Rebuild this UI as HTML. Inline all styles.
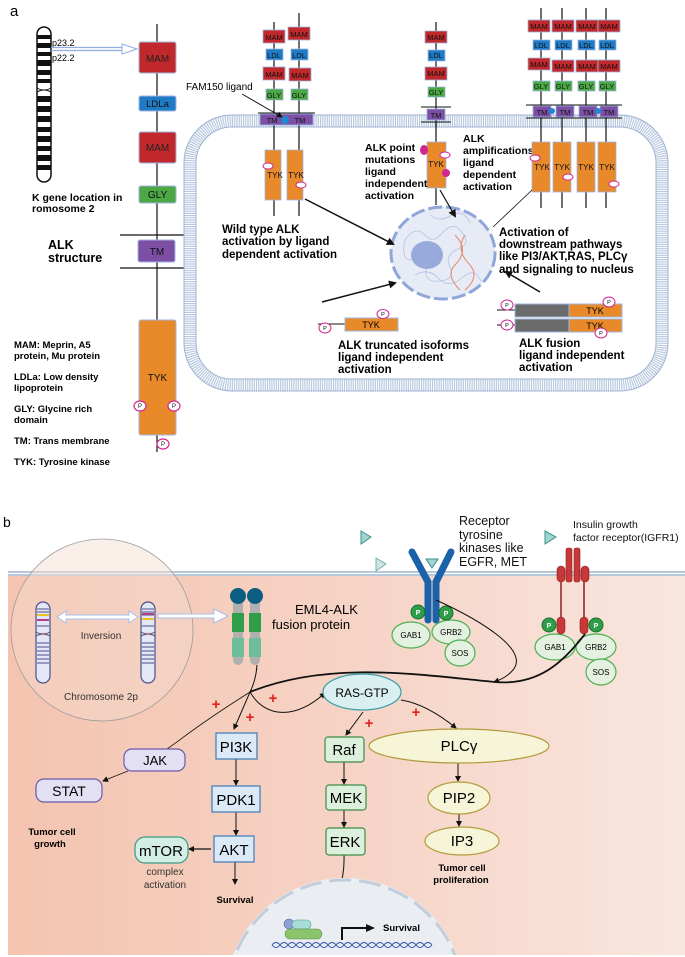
<!DOCTYPE html>
<html><head><meta charset="utf-8"><style>
html,body{margin:0;padding:0;background:#fff;width:685px;height:957px;overflow:hidden}
svg{display:block;font-family:"Liberation Sans",sans-serif}
.b{font-weight:bold}
</style></head><body>
<svg width="685" height="957" viewBox="0 0 685 957" xmlns="http://www.w3.org/2000/svg">
<defs>
<marker id="ah" markerWidth="8" markerHeight="8" refX="6" refY="4" orient="auto" markerUnits="userSpaceOnUse"><path d="M0,0 L8,4 L0,8 z" fill="#111"/></marker>
<marker id="ahs" markerWidth="6" markerHeight="6" refX="5" refY="3" orient="auto" markerUnits="userSpaceOnUse"><path d="M0,0 L6,3 L0,6 z" fill="#111"/></marker>
<linearGradient id="sal" x1="0" x2="1" y1="0" y2="0"><stop offset="0" stop-color="#f4c4b0"/><stop offset="0.5" stop-color="#f6d3c5"/><stop offset="1" stop-color="#f9e6df"/></linearGradient>
</defs>

<!-- ============ PANEL A ============ -->
<text x="10" y="16" font-size="15">a</text>

<g>
<rect x="37" y="27" width="14" height="155" rx="7" fill="#fff" stroke="#111" stroke-width="1.5"/>
<g fill="#111">
<rect x="37" y="35" width="14" height="4"/><rect x="37" y="43" width="14" height="5"/><rect x="37" y="52" width="14" height="4"/>
<rect x="37" y="60" width="14" height="6"/><rect x="37" y="70" width="14" height="5"/><rect x="37" y="79" width="14" height="4"/>
<rect x="37" y="96" width="14" height="6"/><rect x="37" y="106" width="14" height="6"/><rect x="37" y="116" width="14" height="6"/>
<rect x="37" y="127" width="14" height="5"/><rect x="37" y="136" width="14" height="6"/><rect x="37" y="146" width="14" height="5"/>
<rect x="37" y="155" width="14" height="6"/><rect x="37" y="165" width="14" height="5"/>
</g>
<path d="M37,88 Q44,92 51,88 M37,92 Q44,88 51,92" stroke="#111" fill="#fff"/>
</g>
<text x="52" y="46" font-size="9">p23.2</text>
<text x="52" y="61" font-size="9">p22.2</text>
<path d="M51,47.5 L125,47.5 M51,50.5 L125,50.5" stroke="#8faee0" stroke-width="1.2"/>
<path d="M122,44 L137,49 L122,54 z" fill="#fff" stroke="#8faee0"/>
<text x="32" y="201" font-size="10.5" class="b">K gene location in</text>
<text x="32" y="212" font-size="10.5" class="b">romosome 2</text>

<line x1="157" y1="24" x2="157" y2="452" stroke="#111" stroke-width="1.2"/>
<line x1="120" y1="235" x2="184" y2="235" stroke="#111" stroke-width="1.2"/>
<line x1="120" y1="268" x2="184" y2="268" stroke="#111" stroke-width="1.2"/>
<rect x="139" y="42" width="37" height="31" rx="2" fill="#c0282b" stroke="#9fb6e0"/>
<text x="157.5" y="62" font-size="10" text-anchor="middle" fill="#222">MAM</text>
<rect x="139" y="96" width="37" height="15" rx="2" fill="#1f7bc6" stroke="#9fb6e0"/>
<text x="157.5" y="107" font-size="9.5" text-anchor="middle" fill="#111">LDLa</text>
<rect x="139" y="132" width="37" height="31" rx="2" fill="#c0282b" stroke="#9fb6e0"/>
<text x="157.5" y="151" font-size="10" text-anchor="middle" fill="#222">MAM</text>
<rect x="139" y="186" width="37" height="17" rx="2" fill="#4ba845" stroke="#9fb6e0"/>
<text x="157.5" y="198" font-size="10" text-anchor="middle" fill="#111">GLY</text>
<rect x="138" y="240" width="37" height="22" rx="2" fill="#7c4fa4" stroke="#9fb6e0"/>
<text x="157" y="255" font-size="10" text-anchor="middle" fill="#111">TM</text>
<rect x="139" y="320" width="37" height="115" rx="2" fill="#e8892a" stroke="#9fb6e0"/>
<text x="157.5" y="381" font-size="10" text-anchor="middle" fill="#111">TYK</text>
<g fill="#fff" stroke="#d0278f" stroke-width="1.2">
<ellipse cx="140" cy="406" rx="6" ry="5"/><ellipse cx="174" cy="406" rx="6" ry="5"/><ellipse cx="163" cy="444" rx="6" ry="5"/>
</g>
<g font-size="6" text-anchor="middle" fill="#111"><text x="140" y="408">P</text><text x="174" y="408">P</text><text x="163" y="446">P</text></g>
<text x="48" y="249" font-size="12.5" class="b">ALK</text>
<text x="48" y="262" font-size="12.5" class="b">structure</text>
<g font-size="9.5" class="b">
<text x="14" y="348">MAM: Meprin, A5</text><text x="14" y="359">protein, Mu protein</text>
<text x="14" y="380">LDLa: Low density</text><text x="14" y="391">lipoprotein</text>
<text x="14" y="412">GLY: Glycine rich</text><text x="14" y="423">domain</text>
<text x="14" y="444">TM: Trans membrane</text>
<text x="14" y="465">TYK: Tyrosine kinase</text>
</g>

<rect x="190" y="121" width="472" height="264" rx="42" fill="none" stroke="#b8c9e0" stroke-width="12" stroke-dasharray="1.2 1"/>
<rect x="184" y="115" width="484" height="276" rx="48" fill="none" stroke="#9fb3d0" stroke-width="1"/>
<rect x="196" y="127" width="460" height="252" rx="36" fill="none" stroke="#9fb3d0" stroke-width="1"/>

<g stroke="#111" stroke-width="1.2">
<line x1="274" y1="22" x2="274" y2="216"/><line x1="299" y1="13" x2="299" y2="216"/>
</g>
<g stroke="#9fb6e0" stroke-width="0.8">
<rect x="263" y="30" width="22" height="13" fill="#c0282b"/><rect x="288" y="27" width="22" height="13" fill="#c0282b"/>
<rect x="266" y="49" width="17" height="11" fill="#1f7bc6"/><rect x="291" y="49" width="17" height="11" fill="#1f7bc6"/>
<rect x="263" y="67" width="22" height="13" fill="#c0282b"/><rect x="289" y="68" width="22" height="13" fill="#c0282b"/>
<rect x="266" y="89" width="17" height="11" fill="#4ba845"/><rect x="291" y="89" width="17" height="11" fill="#4ba845"/>
<rect x="260" y="114" width="53" height="11" fill="#7c4fa4"/>
<rect x="265" y="150" width="16" height="50" fill="#e8892a"/><rect x="287" y="150" width="16" height="50" fill="#e8892a"/>
</g>
<line x1="258" y1="113" x2="315" y2="113" stroke="#111"/>
<g font-size="7.5" text-anchor="middle" fill="#111">
<text x="274" y="40">MAM</text><text x="299" y="37">MAM</text><text x="274" y="58">LDL</text><text x="299" y="58">LDL</text>
<text x="274" y="77">MAM</text><text x="300" y="78">MAM</text><text x="274" y="98">GLY</text><text x="299" y="98">GLY</text>
<text x="272" y="123">TM</text><text x="300" y="123">TM</text>
<text x="275" y="178" font-size="8">TYK</text><text x="296" y="178" font-size="8">TYK</text>
</g>
<circle cx="285" cy="120" r="4" fill="#1f8ad6"/>
<text x="186" y="90" font-size="10">FAM150 ligand</text>
<line x1="242" y1="94" x2="282" y2="117" stroke="#111" marker-end="url(#ahs)"/>
<ellipse cx="268" cy="166" rx="5" ry="3" fill="#fff" stroke="#d0278f"/><ellipse cx="301" cy="185" rx="5" ry="3" fill="#fff" stroke="#d0278f"/>
<g font-size="11.5" class="b">
<text x="222" y="233">Wild type ALK</text><text x="222" y="245">activation by ligand</text><text x="222" y="258">dependent  activation</text>
</g>

<line x1="436" y1="22" x2="436" y2="205" stroke="#111" stroke-width="1.2"/>
<g stroke="#9fb6e0" stroke-width="0.8">
<rect x="425" y="31" width="22" height="12" fill="#c0282b"/>
<rect x="428" y="50" width="17" height="11" fill="#1f7bc6"/>
<rect x="425" y="67" width="22" height="13" fill="#c0282b"/>
<rect x="428" y="87" width="17" height="10" fill="#4ba845"/>
<rect x="427" y="109" width="18" height="11" fill="#7c4fa4"/>
<rect x="427" y="142" width="19" height="46" fill="#e8892a"/>
</g>
<line x1="421" y1="107" x2="451" y2="107" stroke="#111"/><line x1="421" y1="122" x2="451" y2="122" stroke="#111"/>
<g font-size="7.5" text-anchor="middle" fill="#111">
<text x="436" y="40">MAM</text><text x="436" y="58">LDL</text><text x="436" y="76">MAM</text><text x="436" y="95">GLY</text><text x="436" y="118">TM</text><text x="436" y="167" font-size="8">TYK</text>
</g>
<ellipse cx="424" cy="150" rx="4" ry="5" fill="#d0278f"/><ellipse cx="446" cy="173" rx="4" ry="4" fill="#d0278f"/>
<ellipse cx="445" cy="155" rx="5" ry="3" fill="#fff" stroke="#d0278f"/>
<g font-size="10.5" class="b">
<text x="365" y="151">ALK point</text><text x="365" y="163">mutations</text><text x="365" y="175">ligand</text><text x="365" y="187">independent</text><text x="365" y="199">activation</text>
<text x="463" y="142">ALK</text><text x="463" y="154">amplifications</text><text x="463" y="166">ligand</text><text x="463" y="178">dependent</text><text x="463" y="190">activation</text>
</g>

<g stroke="#111" stroke-width="1.2">
<line x1="541" y1="8" x2="541" y2="208"/><line x1="562" y1="8" x2="562" y2="208"/><line x1="586" y1="8" x2="586" y2="208"/><line x1="606" y1="8" x2="606" y2="208"/>
</g>
<line x1="526" y1="105" x2="622" y2="105" stroke="#111"/><line x1="526" y1="118" x2="622" y2="118" stroke="#111"/>
<g stroke="#9fb6e0" stroke-width="0.8">
<rect x="528" y="20" width="22" height="12" fill="#c0282b"/><rect x="552" y="20" width="22" height="12" fill="#c0282b"/><rect x="576" y="20" width="22" height="12" fill="#c0282b"/><rect x="598" y="20" width="22" height="12" fill="#c0282b"/>
<rect x="533" y="40" width="17" height="10" fill="#1f7bc6"/><rect x="555" y="40" width="17" height="10" fill="#1f7bc6"/><rect x="578" y="40" width="17" height="10" fill="#1f7bc6"/><rect x="599" y="40" width="17" height="10" fill="#1f7bc6"/>
<rect x="528" y="58" width="22" height="12" fill="#c0282b"/><rect x="552" y="60" width="22" height="12" fill="#c0282b"/><rect x="576" y="60" width="22" height="12" fill="#c0282b"/><rect x="598" y="60" width="22" height="12" fill="#c0282b"/>
<rect x="533" y="81" width="17" height="10" fill="#4ba845"/><rect x="555" y="81" width="17" height="10" fill="#4ba845"/><rect x="578" y="81" width="17" height="10" fill="#4ba845"/><rect x="599" y="81" width="17" height="10" fill="#4ba845"/>
<rect x="533" y="106" width="18" height="11" fill="#7c4fa4"/><rect x="556" y="106" width="18" height="11" fill="#7c4fa4"/><rect x="579" y="106" width="18" height="11" fill="#7c4fa4"/><rect x="600" y="106" width="18" height="11" fill="#7c4fa4"/>
<rect x="532" y="142" width="18" height="50" fill="#e8892a"/><rect x="553" y="142" width="18" height="50" fill="#e8892a"/><rect x="577" y="142" width="18" height="50" fill="#e8892a"/><rect x="598" y="142" width="18" height="50" fill="#e8892a"/>
</g>
<circle cx="552" cy="111" r="3" fill="#1f8ad6"/><circle cx="598" cy="111" r="3" fill="#1f8ad6"/>
<g font-size="7.5" text-anchor="middle" fill="#111">
<text x="539" y="29">MAM</text><text x="563" y="29">MAM</text><text x="587" y="29">MAM</text><text x="609" y="29">MAM</text>
<text x="541" y="48">LDL</text><text x="563" y="48">LDL</text><text x="586" y="48">LDL</text><text x="607" y="48">LDL</text>
<text x="539" y="67">MAM</text><text x="563" y="69">MAM</text><text x="587" y="69">MAM</text><text x="609" y="69">MAM</text>
<text x="541" y="89">GLY</text><text x="563" y="89">GLY</text><text x="586" y="89">GLY</text><text x="607" y="89">GLY</text>
<text x="542" y="115">TM</text><text x="565" y="115">TM</text><text x="588" y="115">TM</text><text x="609" y="115">TM</text>
<text x="542" y="170" font-size="8">TYK</text><text x="562" y="170" font-size="8">TYK</text><text x="586" y="170" font-size="8">TYK</text><text x="607" y="170" font-size="8">TYK</text>
</g>
<g fill="#fff" stroke="#d0278f"><ellipse cx="535" cy="158" rx="5" ry="3"/><ellipse cx="568" cy="177" rx="5" ry="3"/><ellipse cx="614" cy="184" rx="5" ry="3"/></g>

<ellipse cx="443" cy="253" rx="52" ry="46" fill="#e6ebf6" stroke="#8fa6d8" stroke-width="3" stroke-dasharray="14 4"/>
<g fill="none" stroke="#b3c2e6" stroke-width="0.8">
<path d="M405,240 q10,-15 20,-5 q8,10 18,-3 q12,-12 20,2 q8,10 -5,15 q-14,6 -8,18 q6,12 -10,14 q-16,2 -14,-12 q2,-14 -12,-10 q-14,4 -9,-19z"/>
<path d="M415,275 q14,-8 24,4 q10,10 24,-2 q12,-10 18,4"/>
<path d="M430,215 q10,8 22,0 q12,-6 18,8"/>
</g>
<ellipse cx="427" cy="255" rx="16" ry="14" fill="#98a9dc"/>
<path d="M455,235 q15,15 0,30 q-10,10 5,25 M465,235 q-10,15 5,30 q10,12 -5,25" fill="none" stroke="#e8896a" stroke-width="1"/>
<g font-size="11.5" class="b">
<text x="499" y="236">Activation of</text><text x="499" y="248">downstream pathways</text><text x="499" y="260">like PI3/AKT,RAS, PLCγ</text><text x="499" y="273">and signaling to nucleus</text>
</g>

<g stroke="#111" fill="none">
<line x1="305" y1="199" x2="393" y2="244" stroke-width="1.5" marker-end="url(#ah)"/>
<line x1="440" y1="190" x2="455" y2="216" stroke-width="1.2" marker-end="url(#ah)"/>
<line x1="532" y1="190" x2="493" y2="227" stroke-width="0.8"/>
<line x1="540" y1="292" x2="506" y2="272" stroke-width="1.5" marker-end="url(#ah)"/>
<line x1="322" y1="302" x2="395" y2="283" stroke-width="1.5" marker-end="url(#ah)"/>
</g>

<line x1="318" y1="324" x2="345" y2="324" stroke="#111"/>
<rect x="345" y="318" width="53" height="13" fill="#e8892a" stroke="#9fb6e0"/>
<text x="371" y="328" font-size="9" text-anchor="middle">TYK</text>
<ellipse cx="383" cy="314" rx="6" ry="4.5" fill="#fff" stroke="#d0278f"/><text x="383" y="316" font-size="5.5" text-anchor="middle">P</text>
<ellipse cx="325" cy="328" rx="6" ry="5" fill="#fff" stroke="#d0278f"/><text x="325" y="330" font-size="5.5" text-anchor="middle">P</text>
<g font-size="11.5" class="b"><text x="338" y="349">ALK truncated isoforms</text><text x="338" y="361">ligand independent</text><text x="338" y="373">activation</text></g>

<line x1="497" y1="310" x2="515" y2="310" stroke="#111"/><line x1="497" y1="325" x2="515" y2="325" stroke="#111"/>
<rect x="515" y="304" width="54" height="13" fill="#6b6b6b" stroke="#9fb6e0"/><rect x="515" y="319" width="54" height="13" fill="#6b6b6b" stroke="#9fb6e0"/>
<rect x="569" y="304" width="53" height="13" fill="#e8892a" stroke="#9fb6e0"/><rect x="569" y="319" width="53" height="13" fill="#e8892a" stroke="#9fb6e0"/>
<text x="595" y="314" font-size="9" text-anchor="middle">TYK</text><text x="595" y="329" font-size="9" text-anchor="middle">TYK</text>
<g fill="#fff" stroke="#d0278f"><ellipse cx="507" cy="305" rx="6" ry="5"/><ellipse cx="507" cy="325" rx="6" ry="5"/><ellipse cx="609" cy="302" rx="6" ry="5"/><ellipse cx="601" cy="333" rx="6" ry="5"/></g>
<g font-size="5.5" text-anchor="middle"><text x="507" y="307">P</text><text x="507" y="327">P</text><text x="609" y="304">P</text><text x="601" y="335">P</text></g>
<g font-size="11.5" class="b"><text x="519" y="347">ALK fusion</text><text x="519" y="359">ligand independent</text><text x="519" y="371">activation</text></g>

<!-- ============ PANEL B ============ -->
<text x="3" y="527" font-size="14">b</text>
<rect x="8" y="575" width="677" height="380" fill="url(#sal)"/>
<line x1="8" y1="572" x2="685" y2="572" stroke="#b8c8dc" stroke-width="2"/>
<line x1="8" y1="575" x2="685" y2="575" stroke="#b8c8dc" stroke-width="2"/>
<circle cx="102" cy="630" r="91" fill="#f5d9cd" fill-opacity="0.45" stroke="#9a9a9a" stroke-width="0.8"/>

<g stroke="#4a4f8a" stroke-width="1.2" fill="#e4e7f5">
<rect x="36" y="602" width="14" height="81" rx="7"/><rect x="141" y="602" width="14" height="81" rx="7"/>
</g>
<g stroke="#4a4f8a" stroke-width="1">
<path d="M37,609h12M37,612h12M37,615h12M37,626h12M37,643h12M37,647h12M37,651h12M37,655h12M37,659h12M37,663h12"/>
<path d="M142,609h12M142,612h12M142,615h12M142,626h12M142,643h12M142,647h12M142,651h12M142,655h12M142,659h12M142,663h12"/>
</g>
<rect x="37" y="614" width="12" height="2" fill="#e8c424"/><rect x="37" y="619" width="12" height="2" fill="#b0408a"/>
<rect x="142" y="613" width="12" height="2" fill="#b0408a"/><rect x="142" y="618" width="12" height="2" fill="#e8c424"/>
<path d="M36,632 q7,4 14,0 M36,636 q7,-4 14,0 M141,632 q7,4 14,0 M141,636 q7,-4 14,0" stroke="#4a4f8a" fill="#f5d9cd"/>
<path d="M57,617 L66,611 L66,615 L129,615 L129,611 L138,617 L129,623 L129,619 L66,619 L66,623 z" fill="#fff" stroke="#a9bde8"/>
<path d="M158,614 L214,614 L214,609 L228,616 L214,623 L214,618 L158,618 z" fill="#fff" stroke="#a9bde8"/>
<text x="101" y="639" font-size="10" text-anchor="middle" fill="#333">Inversion</text>
<text x="101" y="700" font-size="10" text-anchor="middle" fill="#333">Chromosome 2p</text>

<g fill="#b0b0b0"><rect x="233" y="598" width="10" height="67" rx="5"/><rect x="250" y="598" width="10" height="67" rx="5"/></g>
<circle cx="238" cy="596" r="8" fill="#0b5e82"/><circle cx="255" cy="596" r="8" fill="#0b5e82"/>
<rect x="232" y="613" width="12" height="19" fill="#2e9e48"/><rect x="249" y="613" width="12" height="19" fill="#2e9e48"/>
<rect x="232" y="638" width="12" height="19" fill="#6dbf9c"/><rect x="249" y="638" width="12" height="19" fill="#6dbf9c"/>
<text x="295" y="614" font-size="13">EML4-ALK</text>
<text x="272" y="629" font-size="13">fusion protein</text>

<g fill="none" stroke="#1b62a8" stroke-linecap="round">
<path d="M412,552 L428,582 L428,620" stroke-width="7"/>
<path d="M451,552 L436,582 L436,620" stroke-width="7"/>
</g>
<path d="M426,559 L438,559 L432,568 z" fill="#9ed6cf" stroke="#3b8f8c"/>
<path d="M361,531 L371,537 L361,544 z" fill="#9ed6cf" stroke="#3b8f8c"/>
<path d="M376,558 L386,564 L376,571 z" fill="#cde8e4" stroke="#7ab0aa"/>
<path d="M545,531 L556,537 L545,544 z" fill="#9ed6cf" stroke="#3b8f8c"/>
<g font-size="12.5" fill="#111"><text x="459" y="525">Receptor</text><text x="459" y="539">tyrosine</text><text x="459" y="552">kinases like</text><text x="459" y="566">EGFR, MET</text></g>
<g font-size="10.5" fill="#111"><text x="573" y="528">Insulin growth</text><text x="573" y="541">factor receptor(IGFR1)</text></g>
<g fill="#e4f0e0" stroke="#4caf50" stroke-width="1.2">
<ellipse cx="411" cy="635" rx="19" ry="13"/><ellipse cx="451" cy="632" rx="19" ry="12"/><ellipse cx="460" cy="653" rx="15" ry="13"/>
<ellipse cx="555" cy="647" rx="20" ry="13"/><ellipse cx="596" cy="647" rx="20" ry="13"/><ellipse cx="601" cy="672" rx="15" ry="13"/>
</g>
<g font-size="8" text-anchor="middle"><text x="411" y="638">GAB1</text><text x="451" y="635">GRB2</text><text x="460" y="656">SOS</text><text x="555" y="650">GAB1</text><text x="596" y="650">GRB2</text><text x="601" y="675">SOS</text></g>

<g fill="#c73838" stroke="#8c1f1f" stroke-width="0.6">
<rect x="557" y="566" width="8" height="16" rx="4"/><rect x="581" y="566" width="8" height="16" rx="4"/>
<rect x="566" y="548" width="6" height="34" rx="2"/><rect x="574" y="548" width="6" height="34" rx="2"/>
<rect x="557" y="617" width="8" height="17" rx="4"/><rect x="580" y="617" width="8" height="17" rx="4"/>
</g>
<line x1="561" y1="582" x2="561" y2="617" stroke="#8c1f1f" stroke-width="1.5"/><line x1="584" y1="582" x2="584" y2="617" stroke="#8c1f1f" stroke-width="1.5"/>
<g fill="#2e9e48" stroke="#1d6e2e"><circle cx="418" cy="612" r="7"/><circle cx="446" cy="613" r="7"/><circle cx="549" cy="625" r="7"/><circle cx="596" cy="625" r="7"/></g>
<g font-size="7" fill="#fff" text-anchor="middle" class="b"><text x="418" y="615">P</text><text x="446" y="616">P</text><text x="549" y="628">P</text><text x="596" y="628">P</text></g>

<g fill="none" stroke="#111">
<path d="M257,665 Q256,680 250,692" stroke-width="1"/>
<path d="M250,692 C330,660 420,675 495,682 C540,686 565,660 585,634" stroke-width="1.8"/>
<path d="M436,600 C480,620 530,650 513,670 C508,676 500,680 494,682" stroke-width="1" marker-end="url(#ahs)"/>
<path d="M252,690 L250,692 L234,729" stroke-width="1" marker-end="url(#ahs)"/>
<path d="M250,692 C190,730 185,737 167,749" stroke-width="0.8"/>
<path d="M250,692 C265,718 295,720 325,693" stroke-width="1" marker-end="url(#ahs)"/>
<path d="M363,712 L346,735" stroke-width="1" marker-end="url(#ahs)"/>
<path d="M401,700 C420,703 440,715 456,728" stroke-width="1" marker-end="url(#ahs)"/>
<line x1="128" y1="771" x2="103" y2="781" stroke-width="0.8" marker-end="url(#ahs)"/>
<line x1="236" y1="759" x2="236" y2="785" marker-end="url(#ahs)"/>
<line x1="236" y1="812" x2="236" y2="835" marker-end="url(#ahs)"/>
<line x1="211" y1="849" x2="189" y2="849" stroke-width="1.3" marker-end="url(#ahs)"/>
<line x1="235" y1="862" x2="235" y2="884" marker-end="url(#ahs)"/>
<line x1="344" y1="762" x2="344" y2="784" marker-end="url(#ahs)"/>
<line x1="344" y1="810" x2="344" y2="827" marker-end="url(#ahs)"/>
<line x1="458" y1="763" x2="458" y2="781" marker-end="url(#ahs)"/>
<line x1="459" y1="814" x2="459" y2="826" marker-end="url(#ahs)"/>
<path d="M344,855 C345,885 335,905 318,918" marker-end="url(#ahs)"/>
</g>
<g fill="#e52020" font-size="15" font-weight="bold" text-anchor="middle">
<text x="216" y="709">+</text><text x="273" y="703">+</text><text x="250" y="722">+</text><text x="369" y="728">+</text><text x="416" y="717">+</text>
</g>

<ellipse cx="362" cy="692" rx="39" ry="18" fill="#d9eff0" stroke="#3b9ea6" stroke-width="1.2"/>
<text x="362" y="697" font-size="12" text-anchor="middle">RAS-GTP</text>
<g fill="#dbe8f6" stroke="#3c7ab8" stroke-width="1.2">
<rect x="216" y="733" width="41" height="26"/><rect x="212" y="786" width="48" height="26"/><rect x="214" y="836" width="40" height="26"/>
</g>
<g font-size="15" text-anchor="middle"><text x="236" y="752">PI3K</text><text x="236" y="805">PDK1</text><text x="234" y="855">AKT</text></g>
<rect x="135" y="837" width="53" height="26" rx="10" fill="#d3eee5" stroke="#3d9b7e" stroke-width="1.2"/>
<text x="161" y="856" font-size="15" text-anchor="middle">mTOR</text>
<text x="165" y="875" font-size="10" text-anchor="middle" fill="#333">complex</text>
<text x="165" y="888" font-size="10" text-anchor="middle" fill="#333">activation</text>
<rect x="124" y="749" width="61" height="22" rx="8" fill="#e4e0f3" stroke="#6a5aa8" stroke-width="1.2"/>
<text x="155" y="765" font-size="13" text-anchor="middle">JAK</text>
<rect x="36" y="779" width="66" height="23" rx="8" fill="#e4e0f3" stroke="#6a5aa8" stroke-width="1.2"/>
<text x="69" y="796" font-size="14" text-anchor="middle">STAT</text>
<g font-size="9.5" class="b" text-anchor="middle"><text x="52" y="835">Tumor cell</text><text x="50" y="847">growth</text><text x="235" y="903">Survival</text><text x="462" y="871">Tumor cell</text><text x="461" y="883">proliferation</text></g>
<g fill="#ddefdd" stroke="#3f8a48" stroke-width="1.2">
<rect x="325" y="737" width="39" height="25" rx="3"/><rect x="326" y="785" width="40" height="25" rx="3"/><rect x="326" y="828" width="39" height="27" rx="3"/>
</g>
<g font-size="15" text-anchor="middle"><text x="344" y="755">Raf</text><text x="346" y="803">MEK</text><text x="345" y="847">ERK</text></g>
<g fill="#f6f5d8" stroke="#b39b3c" stroke-width="1.2">
<ellipse cx="459" cy="746" rx="90" ry="17"/><ellipse cx="459" cy="798" rx="31" ry="16"/><ellipse cx="462" cy="841" rx="37" ry="14"/>
</g>
<g font-size="15" text-anchor="middle"><text x="459" y="751">PLCγ</text><text x="459" y="803">PIP2</text><text x="462" y="846">IP3</text></g>

<clipPath id="cb"><rect x="0" y="0" width="685" height="955"/></clipPath>
<g clip-path="url(#cb)">
<circle cx="345" cy="998" r="120" fill="#eaeef3"/>
<circle cx="345" cy="998" r="118" fill="none" stroke="#c2cddb" stroke-width="3" stroke-dasharray="22 8"/>
</g>
<circle cx="289" cy="924" r="5" fill="#8f9fd6" stroke="#5a6aa8" stroke-width="0.6"/>
<rect x="292" y="920" width="19" height="9" rx="4.5" fill="#a8dcd6" stroke="#4a9a90" stroke-width="0.6"/>
<rect x="285" y="929" width="37" height="10" rx="5" fill="#8cc46e" stroke="#5b8f46" stroke-width="0.6"/>
<path d="M272,945 q4,-5 8,0 q4,5 8,0 q4,-5 8,0 q4,5 8,0 q4,-5 8,0 q4,5 8,0 q4,-5 8,0 q4,5 8,0 q4,-5 8,0 q4,5 8,0 q4,-5 8,0 q4,5 8,0 q4,-5 8,0 q4,5 8,0 q4,-5 8,0 q4,5 8,0 q4,-5 8,0 q4,5 8,0 q4,-5 8,0 q4,5 8,0 M272,945 q4,5 8,0 q4,-5 8,0 q4,5 8,0 q4,-5 8,0 q4,5 8,0 q4,-5 8,0 q4,5 8,0 q4,-5 8,0 q4,5 8,0 q4,-5 8,0 q4,5 8,0 q4,-5 8,0 q4,5 8,0 q4,-5 8,0 q4,5 8,0 q4,-5 8,0 q4,5 8,0 q4,-5 8,0 q4,5 8,0 q4,-5 8,0" fill="none" stroke="#2d4fa8" stroke-width="0.9"/>
<path d="M342,940 L342,928 L368,928" fill="none" stroke="#111" stroke-width="2"/>
<path d="M366,924 L375,928 L366,932 z" fill="#111"/>
<text x="383" y="931" font-size="9.5" class="b">Survival</text>
</svg>
</body></html>
